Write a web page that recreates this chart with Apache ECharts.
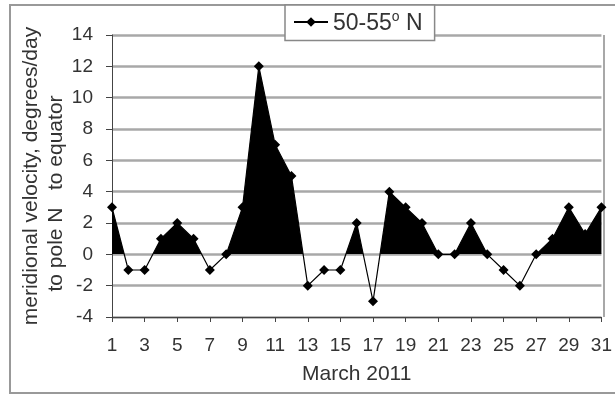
<!DOCTYPE html>
<html>
<head>
<meta charset="utf-8">
<script src="https://cdn.jsdelivr.net/npm/echarts@6/dist/echarts.min.js"></script>
<style>
  html, body { margin: 0; padding: 0; background: #fff; }
  #main { width: 615px; height: 396px; }
</style>
</head>
<body>
<div id="main"></div>
<script>
// days of March 2011
var days = []
for (var d = 1; d <= 31; d++) days.push(String(d))
// meridional velocity, degrees/day
var velocity = [3, -1, -1, 1, 2, 1, -1, 0, 3, 12, 7, 5, -2, -1, -1, 2, -3, 4, 3, 2, 0, 0, 2, 0, -1, -2, 0, 1, 3, 1.3, 3]
var yTicks = { min: -4, max: 14, step: 2 }
var seriesName = '50-55° N'

var myChart = echarts.init(document.getElementById('main'))
var font = 'Liberation Sans, Arial, sans-serif'

var option = {
  animation: false,
  backgroundColor: '#fff',
  textStyle: { fontFamily: font },
  grid: { left: 112, right: 11, top: 35, bottom: 79 },
  legend: {
    data: [seriesName],
    left: 285,
    top: 5,
    padding: [5, 12, 5, 8],
    itemWidth: 34,
    itemHeight: 12,
    borderColor: '#888',
    borderWidth: 1.5,
    backgroundColor: '#fff',
    z: 10,
    formatter: function () { return '{a|50-55}{s|o}{a| N}' },
    textStyle: {
      rich: {
        a: { fontSize: 23, color: '#333', fontFamily: font, padding: [4, 0, 0, 0] },
        s: { fontSize: 14, color: '#333', fontFamily: font, padding: [0, 0, 10, 0] }
      }
    }
  },
  // positive part is filled black, negative part left white
  visualMap: {
    show: false,
    seriesIndex: 0,
    dimension: 1,
    pieces: [
      { gte: -4, lte: 0, color: 'rgba(255,255,255,0)' },
      { gt: 0, lte: 14, color: '#000' }
    ]
  },
  xAxis: {
    type: 'category',
    data: days,
    boundaryGap: false,
    name: 'March 2011',
    nameLocation: 'middle',
    nameGap: 47,
    nameMoveOverlap: false,
    nameTextStyle: { fontSize: 21, color: '#333' },
    axisLine: { onZero: false, lineStyle: { color: '#444', width: 1 } },
    axisTick: { interval: 1, length: 5, lineStyle: { color: '#444' } },
    axisLabel: { interval: 1, fontSize: 19, color: '#333', margin: 19 },
    splitLine: { show: false }
  },
  yAxis: {
    type: 'value',
    min: yTicks.min,
    max: yTicks.max,
    interval: yTicks.step,
    name: 'meridional velocity, degrees/day\nto pole N   to equator      ',
    nameLocation: 'middle',
    nameRotate: 90,
    nameGap: 43,
    nameMoveOverlap: false,
    nameTextStyle: { fontSize: 21, color: '#333', lineHeight: 25 },
    axisLine: { show: true, lineStyle: { color: '#444', width: 1 } },
    axisTick: { show: true, length: 6, lineStyle: { color: '#444' } },
    axisLabel: { fontSize: 19, color: '#333', margin: 19 },
    splitLine: { lineStyle: { color: '#a8a8a8', width: 2.5 } }
  },
  graphic: [
    {
      type: 'rect',
      shape: { x: 10, y: 5, width: 610, height: 388 },
      style: { fill: 'none', stroke: '#999', lineWidth: 2 },
      silent: true
    },
    {
      type: 'line',
      shape: { x1: 604, y1: 35, x2: 604, y2: 317 },
      style: { stroke: '#a8a8a8', lineWidth: 2 },
      silent: true
    }
  ],
  series: [
    {
      name: 'area',
      type: 'line',
      data: velocity,
      symbol: 'none',
      lineStyle: { width: 0 },
      areaStyle: { origin: 'auto', opacity: 1 },
      z: 2
    },
    {
      name: seriesName,
      type: 'line',
      data: velocity,
      symbol: 'diamond',
      symbolSize: 10,
      itemStyle: { color: '#000' },
      lineStyle: { color: '#000', width: 1.2 },
      z: 3
    }
  ]
}

myChart.setOption(option)
</script>
</body>
</html>
